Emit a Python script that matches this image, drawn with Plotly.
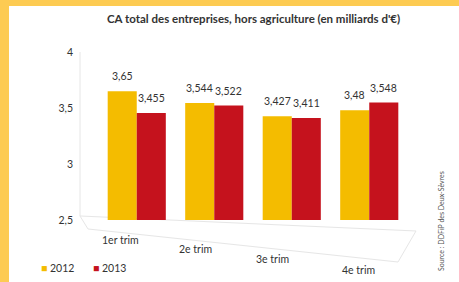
import plotly.graph_objects as go

categories = ["1er trim", "2e trim", "3e trim", "4e trim"]
values_2012 = [3.65, 3.544, 3.427, 3.48]
values_2013 = [3.455, 3.522, 3.411, 3.548]
series_names = ["2012", "2013"]
series_colors = ["#F4BC00", "#C5121D"]
y_tick_vals = [2.5, 3, 3.5, 4]
y_tick_text = ["2,5", "3", "3,5", "4"]

def fmt(v):
    return ("%g" % v).replace(".", ",")

FONT = "Lato"
TXT = "#333333"
W, H = 459, 282
ML, MR, MT, MB = 98, 51, 52, 62
PW, PH = W - ML - MR, H - MT - MB

def px_x(x):
    return (x - ML) / PW

def px_y(y):
    return (H - MB - y) / PH

fig = go.Figure()
for name, vals, col in zip(series_names, [values_2012, values_2013], series_colors):
    fig.add_trace(go.Bar(
        x=categories, y=[v - 2.5 for v in vals], base=2.5,
        name=name, marker_color=col, marker_line_width=0,
        showlegend=False, hoverinfo="skip",
    ))

annotations = []
# value labels above each bar
for vals, xs in zip([values_2012, values_2013], [-14.5, 14.5]):
    for c, v in zip(categories, vals):
        annotations.append(dict(
            x=c, xref="x", y=v, yref="y", text=fmt(v), showarrow=False,
            xanchor="center", yanchor="middle",
            xshift=xs, yshift=15, font=dict(family=FONT, size=10.5, color=TXT),
        ))

# staggered category labels (perspective look)
label_pos_px = [(120, 240), (195, 249), (272, 259), (358, 270)]
for c, (xp, yp) in zip(categories, label_pos_px):
    annotations.append(dict(
        x=px_x(xp), xref="paper", y=px_y(yp), yref="paper", text=c, showarrow=False,
        xanchor="center", yanchor="middle",
        font=dict(family=FONT, size=10.5, color=TXT),
    ))

annotations.append(dict(
    x=px_x(254), xref="paper", y=px_y(18), yref="paper",
    xanchor="center", yanchor="middle",
    text="<b>CA total des entreprises, hors agriculture (en milliards d'€)</b>",
    showarrow=False, font=dict(family=FONT, size=11.5, color=TXT),
))
annotations.append(dict(
    x=px_x(441), xref="paper", y=px_y(221), yref="paper",
    xanchor="center", yanchor="middle",
    text="Source : DDFiP des Deux-Sèvres", textangle=-90, showarrow=False,
    font=dict(family=FONT, size=7, color="#555555"),
))
# legend
for name, col, xp in zip(series_names, series_colors, [39, 91]):
    annotations.append(dict(
        x=px_x(xp), xref="paper", y=px_y(268), yref="paper",
        xanchor="left", yanchor="middle",
        text="<span style='color:%s'>■</span> %s" % (col, name), showarrow=False,
        font=dict(family=FONT, size=10.5, color=TXT),
    ))

line_style = dict(color="#E6E6E6", width=1)
shapes = [
    dict(type="rect", xref="paper", yref="paper",
         x0=px_x(9), x1=px_x(W + 5), y0=px_y(H + 5), y1=px_y(6),
         fillcolor="white", line=dict(width=0), layer="below"),
    dict(type="line", xref="paper", yref="paper", x0=px_x(80), x1=px_x(80),
         y0=px_y(216), y1=px_y(52), line=line_style, layer="below"),
    dict(type="path", xref="paper", yref="paper", layer="below", line=line_style,
         path="M %f,%f L %f,%f L %f,%f L %f,%f Z" % (
             px_x(80), px_y(216), px_x(416), px_y(231),
             px_x(398), px_y(262), px_x(88), px_y(229))),
]

fig.update_layout(
    width=W, height=H,
    margin=dict(l=ML, r=MR, t=MT, b=MB),
    paper_bgcolor="#FDCB52", plot_bgcolor="rgba(0,0,0,0)",
    barmode="group", bargap=0.25, bargroupgap=0.0,
    font=dict(family=FONT, size=10, color=TXT),
    showlegend=False, hovermode=False,
    annotations=annotations, shapes=shapes,
    xaxis=dict(showticklabels=False, showgrid=False, zeroline=False, showline=False),
    yaxis=dict(range=[2.5, 4], tickvals=y_tick_vals, ticktext=y_tick_text,
               showgrid=False, zeroline=False, showline=False,
               ticks="", ticklabelstandoff=24,
               tickfont=dict(family=FONT, size=10.5, color=TXT)),
)

fig.write_html("out.html", config={"displayModeBar": False},
               post_script="document.body.style.margin='0';document.body.style.overflow='hidden';")
